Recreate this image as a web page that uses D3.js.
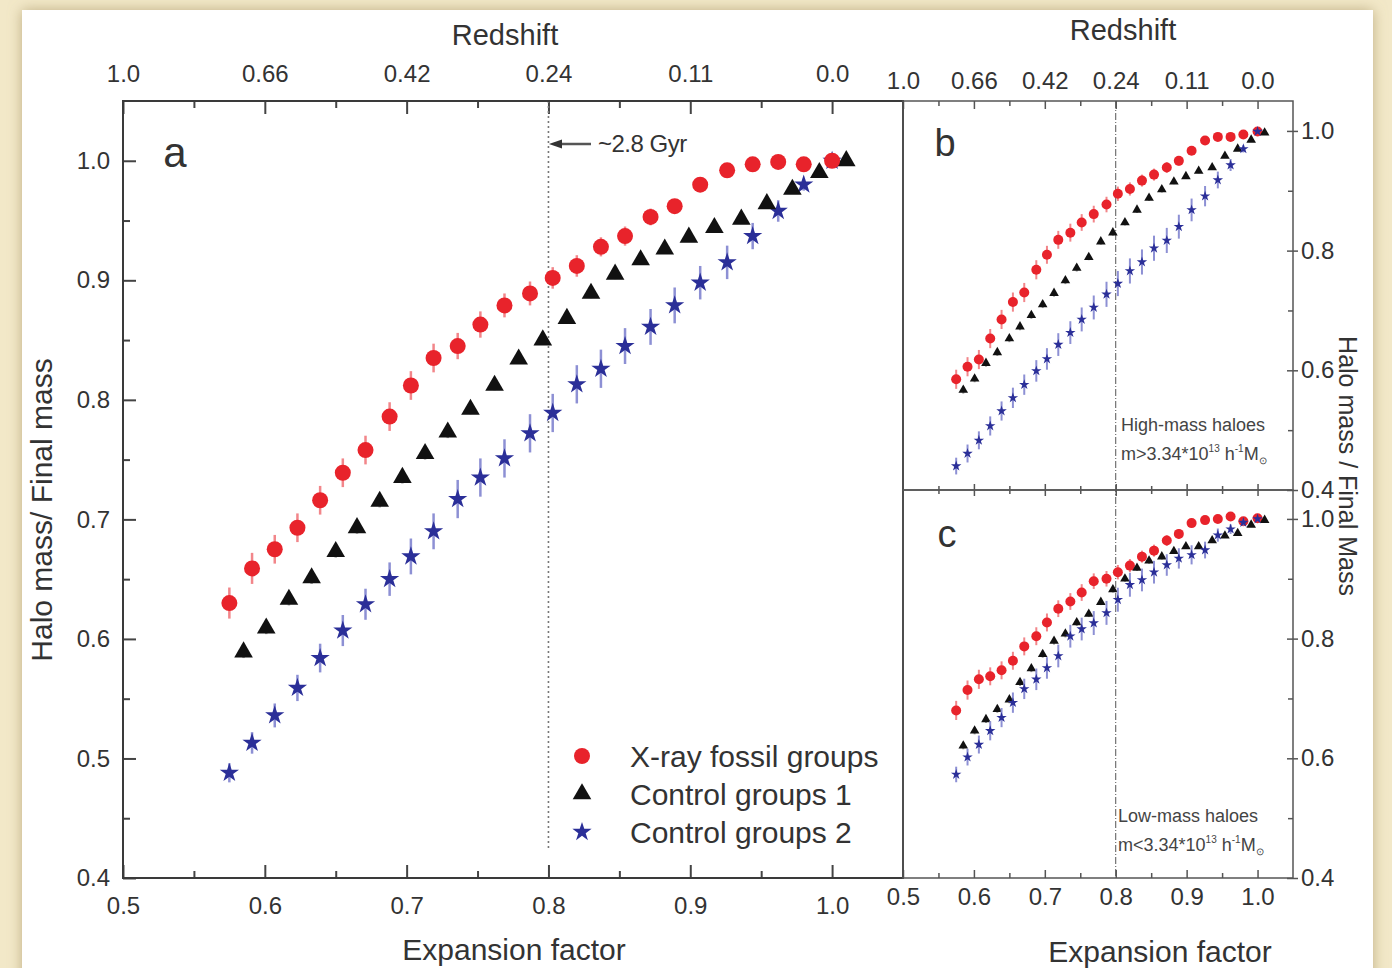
<!DOCTYPE html>
<html>
<head>
<meta charset="utf-8">
<script src="https://cdn.jsdelivr.net/npm/d3@7"></script>
<style>
body { margin: 0; background: #f2e8c8; }
svg { display: block; }
</style>
</head>
<body>
<div id="chart"></div>
<script>
var W = 1392, H = 968
var FONT = '"Liberation Sans", Arial, Helvetica, sans-serif'

// expansion factors of the snapshots (control groups 1 drawn slightly shifted)
var expFossil   = [0.575,0.591,0.607,0.623,0.639,0.655,0.671,0.688,0.703,0.719,0.736,0.752,0.769,0.787,0.803,0.820,0.837,0.854,0.872,0.889,0.907,0.926,0.944,0.962,0.980,1.000]
var expControl1 = [0.585,0.601,0.617,0.633,0.650,0.665,0.681,0.697,0.713,0.729,0.745,0.762,0.779,0.796,0.813,0.830,0.847,0.865,0.882,0.899,0.917,0.936,0.954,0.972,0.991,1.010]
var expControl2 = expFossil

var redshiftTicks  = [0.5, 0.6, 0.7, 0.8, 0.9, 1.0]
var redshiftLabels = ["1.0", "0.66", "0.42", "0.24", "0.11", "0.0"]
var seriesNames = ["X-ray fossil groups", "Control groups 1", "Control groups 2"]

/* panel a : all haloes */
var massA_fossil   = [0.630,0.659,0.675,0.693,0.716,0.739,0.758,0.786,0.812,0.835,0.845,0.863,0.879,0.889,0.902,0.912,0.928,0.937,0.953,0.962,0.980,0.992,0.997,0.999,0.997,1.000]
var errA_fossil    = [0.013,0.013,0.012,0.012,0.012,0.012,0.012,0.012,0.012,0.012,0.011,0.011,0.010,0.010,0.009,0.009,0.008,0.008,0.007,0.005,0.003,0.002,0.001,0.001,0.001,0.000]
var massA_control1 = [0.589,0.609,0.633,0.651,0.673,0.693,0.715,0.735,0.755,0.773,0.792,0.812,0.834,0.850,0.868,0.889,0.905,0.917,0.926,0.936,0.944,0.951,0.964,0.976,0.990,1.000]
var errA_control1  = [0.005,0.005,0.005,0.005,0.005,0.005,0.005,0.005,0.005,0.005,0.004,0.004,0.004,0.004,0.004,0.004,0.004,0.004,0.004,0.003,0.003,0.003,0.002,0.002,0.001,0.000]
var massA_control2 = [0.488,0.513,0.536,0.559,0.584,0.607,0.629,0.650,0.669,0.690,0.717,0.735,0.751,0.772,0.789,0.813,0.826,0.845,0.861,0.879,0.898,0.915,0.937,0.958,0.980,1.000]
var errA_control2  = [0.008,0.009,0.010,0.011,0.012,0.013,0.013,0.014,0.015,0.015,0.016,0.016,0.016,0.016,0.016,0.016,0.016,0.015,0.015,0.015,0.014,0.014,0.011,0.009,0.005,0.001]

/* panel b : high-mass haloes */
var massB_fossil   = [0.585,0.606,0.618,0.653,0.685,0.714,0.730,0.768,0.793,0.818,0.830,0.847,0.861,0.877,0.895,0.903,0.917,0.927,0.939,0.950,0.967,0.984,0.990,0.990,0.994,0.999]
var errB_fossil    = [0.016,0.016,0.016,0.016,0.016,0.016,0.016,0.016,0.015,0.015,0.015,0.014,0.014,0.013,0.012,0.011,0.010,0.010,0.009,0.008,0.007,0.005,0.004,0.003,0.002,0.001]
var massB_control1 = [0.567,0.586,0.612,0.630,0.653,0.673,0.692,0.710,0.729,0.750,0.771,0.789,0.815,0.830,0.847,0.868,0.888,0.902,0.915,0.924,0.933,0.939,0.958,0.970,0.985,0.997]
var errB_control1  = [0.006,0.006,0.006,0.006,0.006,0.006,0.006,0.006,0.006,0.006,0.006,0.005,0.005,0.005,0.005,0.005,0.005,0.005,0.004,0.004,0.004,0.003,0.003,0.002,0.002,0.001]
var massB_control2 = [0.440,0.461,0.483,0.507,0.532,0.554,0.576,0.599,0.619,0.643,0.663,0.685,0.705,0.727,0.745,0.766,0.781,0.804,0.817,0.840,0.868,0.891,0.918,0.943,0.970,0.999]
var errB_control2  = [0.014,0.015,0.015,0.016,0.016,0.017,0.017,0.018,0.018,0.019,0.019,0.020,0.020,0.021,0.021,0.021,0.021,0.021,0.021,0.020,0.019,0.017,0.014,0.010,0.006,0.002]

/* panel c : low-mass haloes */
var massC_fossil   = [0.680,0.714,0.732,0.737,0.747,0.763,0.787,0.804,0.827,0.850,0.862,0.877,0.896,0.900,0.911,0.922,0.937,0.947,0.964,0.975,0.993,0.998,1.000,1.004,0.996,1.001]
var errC_fossil    = [0.016,0.016,0.016,0.015,0.015,0.015,0.015,0.015,0.015,0.014,0.014,0.014,0.013,0.013,0.012,0.011,0.010,0.010,0.009,0.008,0.007,0.006,0.005,0.004,0.003,0.001]
var massC_control1 = [0.621,0.646,0.665,0.682,0.698,0.727,0.750,0.774,0.796,0.808,0.827,0.841,0.861,0.882,0.900,0.918,0.930,0.937,0.946,0.954,0.954,0.964,0.972,0.976,0.990,0.998]
var errC_control1  = [0.006,0.006,0.006,0.006,0.006,0.006,0.006,0.006,0.006,0.006,0.006,0.005,0.005,0.005,0.005,0.005,0.005,0.005,0.004,0.004,0.004,0.003,0.003,0.002,0.002,0.001]
var massC_control2 = [0.573,0.602,0.623,0.646,0.668,0.693,0.716,0.732,0.751,0.771,0.804,0.816,0.826,0.843,0.865,0.890,0.898,0.911,0.923,0.934,0.940,0.948,0.973,0.983,0.994,1.000]
var errC_control2  = [0.013,0.014,0.015,0.016,0.016,0.017,0.017,0.018,0.018,0.019,0.019,0.019,0.020,0.020,0.020,0.020,0.019,0.019,0.018,0.017,0.016,0.014,0.011,0.008,0.005,0.002]

var COLORS = {fossil: "#e8232b", control1: "#111111", control2: "#2b2f98"}
var ERRCOL = {fossil: "#f2868a", control1: "#9a9a9a", control2: "#8d90d4"}

var svg = d3.select("#chart").append("svg").attr("width", W).attr("height", H)
    .attr("font-family", FONT)

var defs = svg.append("defs")
var filt = defs.append("filter").attr("id", "shadow")
    .attr("x", "-3%").attr("y", "-3%").attr("width", "106%").attr("height", "106%")
filt.append("feDropShadow").attr("dx", 0).attr("dy", 0).attr("stdDeviation", 7)
    .attr("flood-color", "#a89566").attr("flood-opacity", 0.7)

svg.append("rect").attr("width", W).attr("height", H).attr("fill", "#f2e8c8")
svg.append("rect").attr("x", 22).attr("y", 10).attr("width", 1351).attr("height", 990)
    .attr("fill", "#ffffff").attr("filter", "url(#shadow)")

/* scales */
var xA = d3.scaleLinear().domain([0.5, 1.05]).range([123, 903])
var yA = d3.scaleLinear().domain([0.4, 1.05]).range([878, 101])
var xB = d3.scaleLinear().domain([0.5, 1.05]).range([903, 1293])
var yB = d3.scaleLinear().domain([0.4, 1.05]).range([490, 101])
var yC = d3.scaleLinear().domain([0.4, 1.05]).range([878, 489])

var majX = [0.5, 0.6, 0.7, 0.8, 0.9, 1.0]
var minX = [0.55, 0.65, 0.75, 0.85, 0.95]
var majY = [0.4, 0.5, 0.6, 0.7, 0.8, 0.9, 1.0]
var minY = [0.45, 0.55, 0.65, 0.75, 0.85, 0.95]

function styleAxis(sel, color, width, fontSize) {
    sel.attr("font-family", FONT).attr("font-size", fontSize)
    sel.select(".domain").remove()
    sel.selectAll("line").attr("stroke", color).attr("stroke-width", width)
    sel.selectAll("text").attr("fill", "#333")
}

function addAxis(axis, tx, ty, color, width, fontSize) {
    return svg.append("g").attr("transform", "translate(" + tx + "," + ty + ")")
        .call(axis).call(styleAxis, color, width, fontSize)
}

/* ---------- panel a axes ---------- */
addAxis(d3.axisBottom(xA).tickValues(majX).tickSize(-13).tickSizeOuter(0).tickPadding(19).tickFormat(d3.format(".1f")), 0, 878, "#444", 2, 24)
addAxis(d3.axisBottom(xA).tickValues(minX).tickSize(-7).tickSizeOuter(0).tickFormat(""), 0, 878, "#444", 2, 24)
addAxis(d3.axisTop(xA).tickValues(redshiftTicks).tickSize(-13).tickSizeOuter(0).tickPadding(19).tickFormat(function(d, i){ return redshiftLabels[i] }), 0, 101, "#444", 2, 24)
addAxis(d3.axisTop(xA).tickValues(minX).tickSize(-7).tickSizeOuter(0).tickFormat(""), 0, 101, "#444", 2, 24)
addAxis(d3.axisLeft(yA).tickValues(majY).tickSize(-13).tickSizeOuter(0).tickPadding(13).tickFormat(d3.format(".1f")), 123, 0, "#444", 2, 24)
addAxis(d3.axisLeft(yA).tickValues(minY).tickSize(-7).tickSizeOuter(0).tickFormat(""), 123, 0, "#444", 2, 24)

/* ---------- panel b / c axes ---------- */
addAxis(d3.axisTop(xB).tickValues(redshiftTicks).tickSize(-8).tickSizeOuter(0).tickPadding(12).tickFormat(function(d, i){ return redshiftLabels[i] }), 0, 101, "#555", 1.5, 24)
addAxis(d3.axisTop(xB).tickValues(minX).tickSize(-5).tickSizeOuter(0).tickFormat(""), 0, 101, "#555", 1.5, 24)
// shared border b|c : ticks on both sides
addAxis(d3.axisTop(xB).tickValues(majX.slice(1)).tickSize(6).tickSizeOuter(0).tickFormat(""), 0, 490, "#555", 1.5, 24)
addAxis(d3.axisBottom(xB).tickValues(majX.slice(1)).tickSize(6).tickSizeOuter(0).tickFormat(""), 0, 490, "#555", 1.5, 24)
addAxis(d3.axisTop(xB).tickValues(minX).tickSize(4).tickSizeOuter(0).tickFormat(""), 0, 490, "#555", 1.5, 24)
addAxis(d3.axisBottom(xB).tickValues(minX).tickSize(4).tickSizeOuter(0).tickFormat(""), 0, 490, "#555", 1.5, 24)
addAxis(d3.axisBottom(xB).tickValues(majX).tickSize(-8).tickSizeOuter(0).tickPadding(10).tickFormat(d3.format(".1f")), 0, 878, "#555", 1.5, 24)
addAxis(d3.axisBottom(xB).tickValues(minX).tickSize(-5).tickSizeOuter(0).tickFormat(""), 0, 878, "#555", 1.5, 24)

var majYR = [0.4, 0.6, 0.8, 1.0]
var minYR = [0.5, 0.7, 0.9]
;[yB, yC].forEach(function(ys) {
    addAxis(d3.axisRight(ys).tickValues(majYR).tickSize(5).tickSizeOuter(0).tickPadding(3).tickFormat(d3.format(".1f")), 1293, 0, "#555", 1.5, 24)
    addAxis(d3.axisRight(ys).tickValues(majYR).tickSize(-6).tickSizeOuter(0).tickFormat(""), 1293, 0, "#555", 1.5, 24)
    addAxis(d3.axisRight(ys).tickValues(minYR).tickSize(-5).tickSizeOuter(0).tickFormat(""), 1293, 0, "#555", 1.5, 24)
})

/* ---------- reference lines ---------- */
svg.append("line").attr("x1", xA(0.8)).attr("x2", xA(0.8)).attr("y1", 101).attr("y2", 848)
    .attr("stroke", "#777").attr("stroke-width", 1.6).attr("stroke-dasharray", "2,3")
svg.append("line").attr("x1", xB(0.8)).attr("x2", xB(0.8)).attr("y1", 101).attr("y2", 878)
    .attr("stroke", "#555").attr("stroke-width", 1).attr("stroke-dasharray", "7,2,1,2")

/* ---------- points ---------- */
function symbolPath(kind, big) {
    if (kind === "control1") return d3.symbol(d3.symbolTriangle, big ? 150 : 40)()
    if (kind === "control2") return d3.symbol(d3.symbolStar, big ? 115 : 34)()
    return null
}

function drawSeries(xs, ys, es, kind, xScale, yScale, big) {
    var data = xs.map(function(a, i){ return {a: a, m: ys[i], e: es[i]} })
    var g = svg.append("g").attr("class", "series " + kind)
    g.selectAll("line.err").data(data).enter().append("line")
        .attr("class", "err")
        .attr("x1", function(d){ return xScale(d.a) }).attr("x2", function(d){ return xScale(d.a) })
        .attr("y1", function(d){ return yScale(d.m - d.e) }).attr("y2", function(d){ return yScale(d.m + d.e) })
        .attr("stroke", ERRCOL[kind]).attr("stroke-width", big ? 2.5 : 2)
    if (kind === "fossil") {
        g.selectAll("circle").data(data).enter().append("circle")
            .attr("cx", function(d){ return xScale(d.a) })
            .attr("cy", function(d){ return yScale(d.m) })
            .attr("r", big ? 8 : 5)
            .attr("fill", COLORS[kind])
    } else {
        var p = symbolPath(kind, big)
        g.selectAll("path").data(data).enter().append("path")
            .attr("d", p)
            .attr("transform", function(d){ return "translate(" + xScale(d.a) + "," + yScale(d.m) + ")" })
            .attr("fill", COLORS[kind])
    }
}

drawSeries(expControl2, massA_control2, errA_control2, "control2", xA, yA, true)
drawSeries(expControl1, massA_control1, errA_control1, "control1", xA, yA, true)
drawSeries(expFossil, massA_fossil, errA_fossil, "fossil", xA, yA, true)

drawSeries(expFossil, massB_fossil, errB_fossil, "fossil", xB, yB, false)
drawSeries(expControl1, massB_control1, errB_control1, "control1", xB, yB, false)
drawSeries(expControl2, massB_control2, errB_control2, "control2", xB, yB, false)

drawSeries(expFossil, massC_fossil, errC_fossil, "fossil", xB, yC, false)
drawSeries(expControl1, massC_control1, errC_control1, "control1", xB, yC, false)
drawSeries(expControl2, massC_control2, errC_control2, "control2", xB, yC, false)

/* ---------- frames ---------- */
svg.append("rect").attr("x", 123).attr("y", 101).attr("width", 780).attr("height", 777)
    .attr("fill", "none").attr("stroke", "#3a3a3a").attr("stroke-width", 2)
svg.append("rect").attr("x", 903).attr("y", 101).attr("width", 390).attr("height", 389)
    .attr("fill", "none").attr("stroke", "#555").attr("stroke-width", 1.5)
svg.append("rect").attr("x", 903).attr("y", 490).attr("width", 390).attr("height", 388)
    .attr("fill", "none").attr("stroke", "#555").attr("stroke-width", 1.5)

/* ---------- titles ---------- */
function label(x, y, txt, size, anchor, rot) {
    var t = svg.append("text").attr("x", x).attr("y", y).text(txt)
        .attr("font-size", size).attr("fill", "#333").attr("text-anchor", anchor || "middle")
    if (rot) t.attr("transform", "rotate(" + rot + "," + x + "," + y + ")")
    return t
}

label(505, 45, "Redshift", 29)
label(1123, 40, "Redshift", 29)
label(514, 960, "Expansion factor", 30)
label(1160, 962, "Expansion factor", 30)
label(52, 510, "Halo mass/ Final mass", 30, "middle", -90)
label(1339, 466, "Halo mass / Final Mass", 25, "middle", 90)

label(175, 167, "a", 42)
label(945, 156, "b", 38)
label(947, 547, "c", 38)

/* ~2.8 Gyr arrow */
svg.append("line").attr("x1", 591).attr("x2", 558).attr("y1", 144).attr("y2", 144)
    .attr("stroke", "#555").attr("stroke-width", 2.5)
svg.append("path").attr("d", "M549,144 L562,139.5 L562,148.5 Z").attr("fill", "#333")
label(598, 152, "~2.8 Gyr", 24, "start").attr("letter-spacing", -0.5)

/* mass-bin notes */
function massNote(x, y, title, sign) {
    label(x, y, title, 18, "start").attr("fill", "#444")
    var t = svg.append("text").attr("x", x).attr("y", y + 29).attr("font-size", 18).attr("fill", "#444")
    t.append("tspan").text("m" + sign + "3.34*10")
    t.append("tspan").text("13").attr("font-size", 10).attr("dy", -8)
    t.append("tspan").text(" h").attr("dy", 8)
    t.append("tspan").text("-1").attr("font-size", 10).attr("dy", -8)
    t.append("tspan").text("M").attr("dy", 8)
    t.append("tspan").text("\u2299").attr("font-size", 10).attr("dy", 4)
}
massNote(1121, 431, "High-mass haloes", ">")
massNote(1118, 822, "Low-mass haloes", "<")

/* ---------- legend ---------- */
var legendKinds = ["fossil", "control1", "control2"]
var legend = svg.append("g").attr("class", "legend")
legendKinds.forEach(function(k, i) {
    var y = 756 + i * 38
    if (k === "fossil") {
        legend.append("circle").attr("cx", 582).attr("cy", y).attr("r", 8).attr("fill", COLORS[k])
    } else {
        legend.append("path").attr("d", symbolPath(k, true))
            .attr("transform", "translate(582," + y + ")").attr("fill", COLORS[k])
    }
    legend.append("text").attr("x", 630).attr("y", y + 11).text(seriesNames[i])
        .attr("font-size", 30).attr("fill", "#333")
})
</script>
</body>
</html>
